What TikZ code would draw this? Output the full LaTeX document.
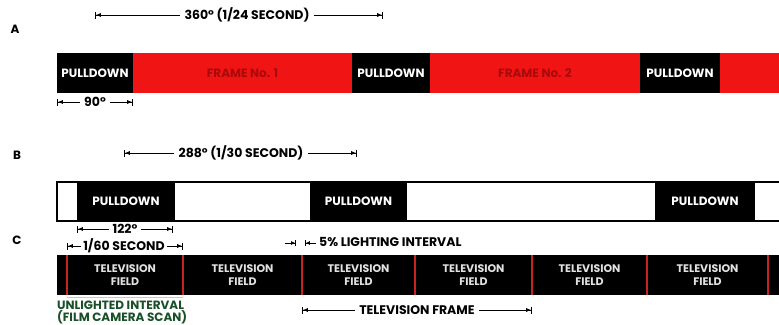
\documentclass[tikz,border=0pt]{standalone}
\usepackage{fontspec}
\setmainfont{Poppins}
\usetikzlibrary{arrows.meta}
\definecolor{tred}{RGB}{240,20,20}
\definecolor{dred}{RGB}{170,10,10}
\definecolor{lred}{RGB}{200,35,30}
\definecolor{dgreen}{RGB}{25,80,40}
\definecolor{fieldtxt}{RGB}{225,225,225}
\tikzset{
  seg/.style={rectangle, inner sep=0pt, outer sep=0pt, anchor=west},
  pd/.style={seg, fill=black, text=white, font=\fontsize{12}{14}\selectfont\bfseries},
  fr/.style={seg, fill=tred, text=dred, font=\fontsize{12}{14}\selectfont\bfseries},
  wh/.style={seg, fill=white},
  fld/.style={seg, text=fieldtxt, align=center, font=\fontsize{11}{13}\selectfont\bfseries},
  lab/.style={font=\fontsize{12}{14}\selectfont\bfseries, inner sep=0pt},
  dimtxt/.style={font=\fontsize{12.5}{14}\selectfont\bfseries, inner sep=4pt},
  dl/.style={line width=0.8pt, {Bar[width=7pt]Latex[length=5pt,width=4pt]}-},
  dr/.style={line width=0.8pt, -{Latex[length=5pt,width=4pt]Bar[width=7pt]}},
  redline/.style={draw=lred, line width=1.8pt}
}
\begin{document}
\begin{tikzpicture}[x=1pt,y=-1pt]
\useasboundingbox[fill=white] (0,0) rectangle (779,324);

% ---------- Row A ----------
\node[lab] (labA) at (15,29) {A};
\coordinate (dA1) at (95,15);
\coordinate (dA2) at (383,15);
\node[dimtxt] (tA) at (247,15) {360° (1/24 SECOND)};
\draw[dl] (dA1) -- (tA.west);
\draw[dr] (tA.east) -- (dA2);

\node[pd, minimum width=76pt, minimum height=40pt] (a1) at (57,73) {PULLDOWN};
\node[fr, minimum width=219pt, minimum height=40pt] (a2) at (133,73) {FRAME No. 1};
\node[pd, minimum width=78pt, minimum height=40pt] (a3) at (352,73) {PULLDOWN};
\node[fr, minimum width=210pt, minimum height=40pt] (a4) at (430,73) {FRAME No. 2};
\node[pd, minimum width=80pt, minimum height=40pt] (a5) at (640,73) {PULLDOWN};
\node[fr, minimum width=59pt, minimum height=40pt] (a6) at (720,73) {};

\coordinate (dA3) at (57,102);
\coordinate (dA4) at (133,102);
\node[dimtxt] (tA2) at (95,102) {90°};
\draw[dl] (dA3) -- (tA2.west);
\draw[dr] (tA2.east) -- (dA4);

% ---------- Row B ----------
\node[lab] (labB) at (17,155) {B};
\coordinate (dB1) at (124,153);
\coordinate (dB2) at (357,153);
\node[dimtxt] (tB) at (241,153) {288° (1/30 SECOND)};
\draw[dl] (dB1) -- (tB.west);
\draw[dr] (tB.east) -- (dB2);

\node[wh, minimum width=20pt, minimum height=39pt] (b0) at (57,201.5) {};
\node[pd, minimum width=98pt, minimum height=39pt] (b1) at (77,201.5) {PULLDOWN};
\node[wh, minimum width=135pt, minimum height=39pt] (b2) at (175,201.5) {};
\node[pd, minimum width=97pt, minimum height=39pt] (b3) at (310,201.5) {PULLDOWN};
\node[wh, minimum width=248pt, minimum height=39pt] (b4) at (407,201.5) {};
\node[pd, minimum width=100pt, minimum height=39pt] (b5) at (655,201.5) {PULLDOWN};
\node[wh, minimum width=24pt, minimum height=39pt] (b6) at (755,201.5) {};
\draw[line width=1.2pt] (b6.north east) -- (b0.north west) -- (b0.south west) -- (b6.south east);

\coordinate (dB3) at (77,229);
\coordinate (dB4) at (173,229);
\node[dimtxt, inner sep=3pt] (tB2) at (125,229) {122°};
\draw[dl] (dB3) -- (tB2.west);
\draw[dr] (tB2.east) -- (dB4);

% ---------- Row C ----------
\node[lab] (labC) at (17,240) {C};
\coordinate (dC1) at (67,246);
\coordinate (dC2) at (183,246);
\node[dimtxt, inner sep=2pt] (tC) at (124,246) {1/60 SECOND};
\draw[dl] (dC1) -- (tC.west);
\draw[dr] (tC.east) -- (dC2);

\coordinate (l1) at (285,243);
\coordinate (l2) at (296,243);
\coordinate (l3) at (305,243);
\coordinate (l4) at (316,243);
\draw[line width=0.8pt, -{Latex[length=4pt,width=4pt]Bar[width=6pt]}] (l1) -- (l2);
\draw[line width=0.8pt, -{Latex[length=4pt,width=4pt]Bar[width=6pt]}] (l4) -- (l3);
\node[dimtxt, anchor=west, inner sep=0pt] (t5) at (319,242) {5\% LIGHTING INTERVAL};

\node[seg, fill=black, minimum width=722pt, minimum height=40pt] (c0) at (57,275) {};
\node[fld, minimum width=116pt, minimum height=40pt] (f1) at (67,275) {TELEVISION\\FIELD};
\node[fld, minimum width=119pt, minimum height=40pt] (f2) at (183,275) {TELEVISION\\FIELD};
\node[fld, minimum width=113pt, minimum height=40pt] (f3) at (302,275) {TELEVISION\\FIELD};
\node[fld, minimum width=117pt, minimum height=40pt] (f4) at (415,275) {TELEVISION\\FIELD};
\node[fld, minimum width=115pt, minimum height=40pt] (f5) at (532,275) {TELEVISION\\FIELD};
\node[fld, minimum width=121pt, minimum height=40pt] (f6) at (647,275) {TELEVISION\\FIELD};
\foreach \f in {f1,f2,f3,f4,f5,f6} {
  \draw[redline] (\f.north west) -- (\f.south west);
}
\draw[redline] (f6.north east) -- (f6.south east);
\draw[gray!45, line width=0.8pt] (f1.south west) ++(0,2) -- ++(116,0);

\node[anchor=north west, align=left, inner sep=0pt, text=dgreen,
      font=\fontsize{12}{11}\selectfont\bfseries] (un) at (57,300.5)
      {UNLIGHTED INTERVAL\\(FILM CAMERA SCAN)};

\coordinate (dC3) at (302,310);
\coordinate (dC4) at (532,310);
\node[dimtxt] (tC2) at (417,310) {TELEVISION FRAME};
\draw[dl] (dC3) -- (tC2.west);
\draw[dr] (tC2.east) -- (dC4);
\end{tikzpicture}
\end{document}
